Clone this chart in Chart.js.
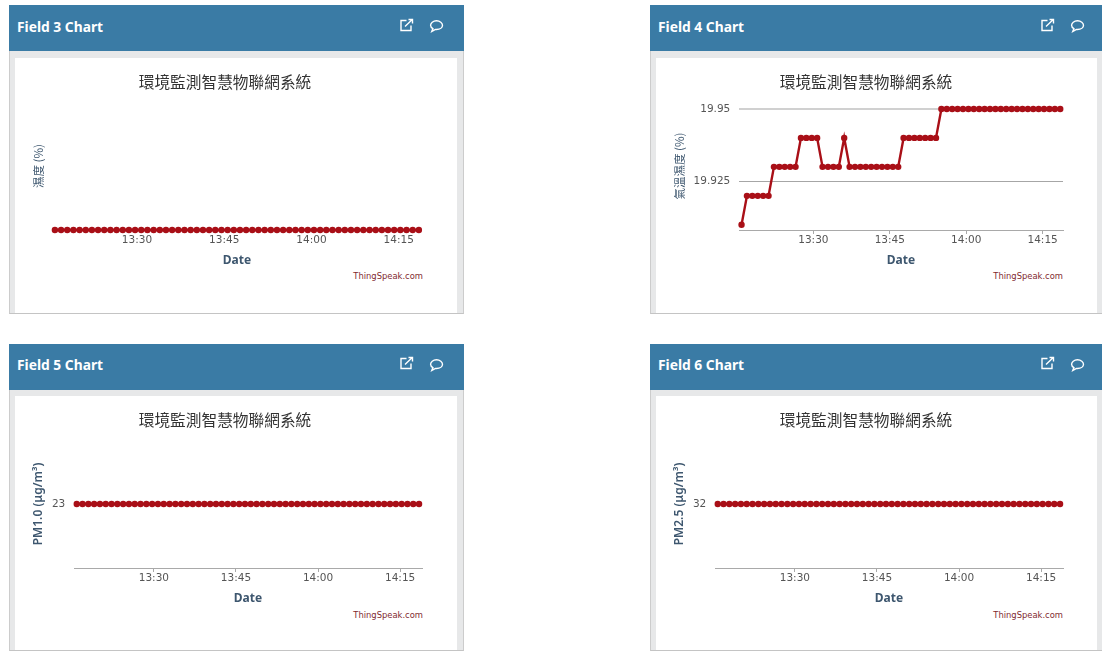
<!DOCTYPE html>
<html>
<head>
<meta charset="utf-8">
<script src="https://cdn.jsdelivr.net/npm/chart.js@4"></script>
<style>
html,body{margin:0;padding:0;width:1102px;height:651px;overflow:hidden;background:#fff}
.panel{position:absolute;box-sizing:border-box;background:#e7e8e9;border-left:1px solid #ccc;border-right:1px solid #ccc;border-bottom:1px solid #c4c4c4}
.head{position:absolute;left:-1px;right:-1px;top:0;height:46px;background:#3a7ba5;color:#fff;font:700 13.8px "Noto Sans",sans-serif}
.head span{position:absolute;left:8px}
.head svg{position:absolute;top:0;left:0;overflow:visible}
.body{position:absolute;background:#fff}
canvas{position:absolute}
.credit{position:absolute;font:8.4px "DejaVu Sans",sans-serif;color:#7f2a30;text-align:right;white-space:nowrap}
</style>
</head>
<body>
<script>
const times = [795.90,796.96,798.02,799.08,800.14,801.20,802.26,803.32,804.38,805.44,806.50,807.56,808.62,809.68,810.74,811.80,812.87,813.93,814.99,816.05,817.11,818.17,819.23,820.29,821.35,822.41,823.47,824.53,825.59,826.65,827.71,828.77,829.83,830.89,831.95,833.01,834.07,835.13,836.19,837.25,838.31,839.37,840.43,841.49,842.55,843.61,844.67,845.73,846.79,847.85,848.92,849.98,851.04,852.10,853.16,854.22,855.28,856.34,857.40,858.46];
const timeTicks = [810,825,840,855];
const timeLabels = ['13:30','13:45','14:00','14:15'];
const chartTitle = '環境監測智慧物聯網系統';

const field3 = [0,0,0,0,0,0,0,0,0,0,0,0,0,0,0,0,0,0,0,0,0,0,0,0,0,0,0,0,0,0,0,0,0,0,0,0,0,0,0,0,0,0,0,0,0,0,0,0,0,0,0,0,0,0,0,0,0,0,0,0];
const field4 = [19.91,19.92,19.92,19.92,19.92,19.92,19.93,19.93,19.93,19.93,19.93,19.94,19.94,19.94,19.94,19.93,19.93,19.93,19.93,19.94,19.93,19.93,19.93,19.93,19.93,19.93,19.93,19.93,19.93,19.93,19.94,19.94,19.94,19.94,19.94,19.94,19.94,19.95,19.95,19.95,19.95,19.95,19.95,19.95,19.95,19.95,19.95,19.95,19.95,19.95,19.95,19.95,19.95,19.95,19.95,19.95,19.95,19.95,19.95,19.95];
const field5 = [23,23,23,23,23,23,23,23,23,23,23,23,23,23,23,23,23,23,23,23,23,23,23,23,23,23,23,23,23,23,23,23,23,23,23,23,23,23,23,23,23,23,23,23,23,23,23,23,23,23,23,23,23,23,23,23,23,23,23,23];
const field6 = [32,32,32,32,32,32,32,32,32,32,32,32,32,32,32,32,32,32,32,32,32,32,32,32,32,32,32,32,32,32,32,32,32,32,32,32,32,32,32,32,32,32,32,32,32,32,32,32,32,32,32,32,32,32,32,32,32,32,32,32];

const panels = [
 {name:'Field 3 Chart',left:9,top:5,width:455,bottom:314,inner:442,lift:0,values:field3,yTitle:'濕度 (%)',yFont:'"Noto Sans CJK TC"',yWeight:'normal',yTicks:[],yMin:0,yMax:1,plotLeft:43},
 {name:'Field 4 Chart',left:650,top:5,width:460,bottom:314,inner:441,lift:0,values:field4,yTitle:'氣溫濕度 (%)',yFont:'"Noto Sans CJK TC"',yWeight:'normal',yTicks:[19.925,19.95],yMin:19.9082,yMax:19.9524,plotLeft:89},
 {name:'Field 5 Chart',left:9,top:344,width:455,bottom:651,inner:442,lift:1,values:field5,yTitle:'PM1.0 (μg/m³)',yFont:'"Noto Sans"',yWeight:'600',yTicks:[23],yMin:22,yMax:24,plotLeft:65},
 {name:'Field 6 Chart',left:650,top:344,width:460,bottom:651,inner:441,lift:1,values:field6,yTitle:'PM2.5 (μg/m³)',yFont:'"Noto Sans"',yWeight:'600',yTicks:[32],yMin:31,yMax:33,plotLeft:65}
];
const RED='#a90f17', AXIS='#a9a9a9', LABEL='#555', TITLE='#3e576f';

panels.forEach(p=>{
  const el=document.createElement('div');
  el.className='panel';
  el.style.cssText=`left:${p.left}px;top:${p.top}px;width:${p.width}px;height:${p.bottom-p.top}px`;
  el.innerHTML=`<div class="head"><span style="top:${12-p.lift}px">${p.name}</span>
   <svg width="10" height="10" fill="none" stroke="#fff" stroke-width="1.4">
     <g transform="translate(391,${14-p.lift})"><path d="M6.5 1.5H1v10h10V6.5"/><path d="M5 7.5L12 .8M8.5 .5H12.5V4.5"/></g>
     <g transform="translate(421,15)"><path d="M6.5 .8C3 .8 .6 3 .6 5.3c0 1.5 1 2.7 2.3 3.3L1.8 11.4l3.7-2c.3 0 .6 .1 1 .1 3.5 0 6-1.9 6-4.2S10 .8 6.5 .8z"/></g>
   </svg></div>
   <div class="body" style="left:5px;top:${53-p.lift}px;width:${p.inner}px;height:${p.bottom-p.top-54+p.lift}px"></div>
   <div class="credit"></div>`;
  document.body.appendChild(el);
  const credit=el.querySelector('.credit');
  credit.textContent='ThingSpeak.com';
  credit.style.right=(p.left+p.width-(p.left>600?1064:424))+'px';
  credit.style.top=(266-0.5*p.lift)+'px';

  const cv=document.createElement('canvas');
  cv.style.left=(p.left)+'px'; cv.style.top=(p.top+53-p.lift)+'px';
  cv.width=432; cv.height=250;
  cv.style.width='432px'; cv.style.height='250px';
  document.body.appendChild(cv);

  new Chart(cv,{
    type:'line',
    data:{datasets:[{
      data:times.map((t,i)=>({x:t,y:p.values[i]})),
      borderColor:RED,backgroundColor:RED,borderWidth:2.4,
      pointRadius:3.2,pointBorderWidth:0,pointBackgroundColor:RED,tension:0,clip:false
    }]},
    options:{
      responsive:false,animation:false,devicePixelRatio:1,
      layout:{padding:{left:19,right:19,top:0,bottom:0}},
      plugins:{legend:{display:false},tooltip:{enabled:false},
        title:{display:true,text:chartTitle,color:'#333',
          font:{family:'"Noto Sans CJK TC"',size:15.7,weight:'normal',lineHeight:1.2},
          padding:{top:14.4,bottom:10.76}}},
      scales:{
        x:{type:'linear',min:795.4,max:859.0,
          afterBuildTicks:a=>{a.ticks=timeTicks.map(v=>({value:v}));},
          afterFit:a=>{a.height=78;},
          grid:{drawOnChartArea:false,drawTicks:true,tickLength:4,tickColor:p.values===field3?'rgba(0,0,0,0)':AXIS},
          border:{display:p.values!==field3,color:AXIS,width:1},
          ticks:{autoSkip:false,maxRotation:0,minRotation:0,padding:0,color:LABEL,
            font:{family:'"DejaVu Sans"',size:10.5},
            callback:(v,i)=>timeLabels[i]},
          title:{display:true,text:'Date',color:TITLE,
            font:{family:'"Noto Sans"',size:12,weight:'bold',lineHeight:1.2},
            padding:{top:0,bottom:40.4}}
        },
        y:{type:'linear',min:p.yMin,max:p.yMax,
          afterBuildTicks:a=>{a.ticks=p.yTicks.map(v=>({value:v}));},
          afterFit:a=>{a.width=p.plotLeft-19;},
          border:{display:false},
          grid:{drawTicks:false,tickLength:0,
            color:c=>c.tick&&c.tick.value>19.94&&c.tick.value<19.96?'#d0d0d0':'#a6a6a6',
            lineWidth:c=>c.tick&&c.tick.value>19.94&&c.tick.value<19.96?2:1},
          ticks:{autoSkip:false,padding:8.7,color:LABEL,
            font:{family:'"DejaVu Sans"',size:10.5},
            callback:v=>String(v)},
          title:{display:true,text:p.yTitle,color:TITLE,
            font:{family:p.yFont,size:p.yWeight==='600'?12:11.5,weight:p.yWeight,lineHeight:1},
            padding:{top:4.5,bottom:0}}
        }
      }
    }
  });
});
</script>
</body>
</html>
